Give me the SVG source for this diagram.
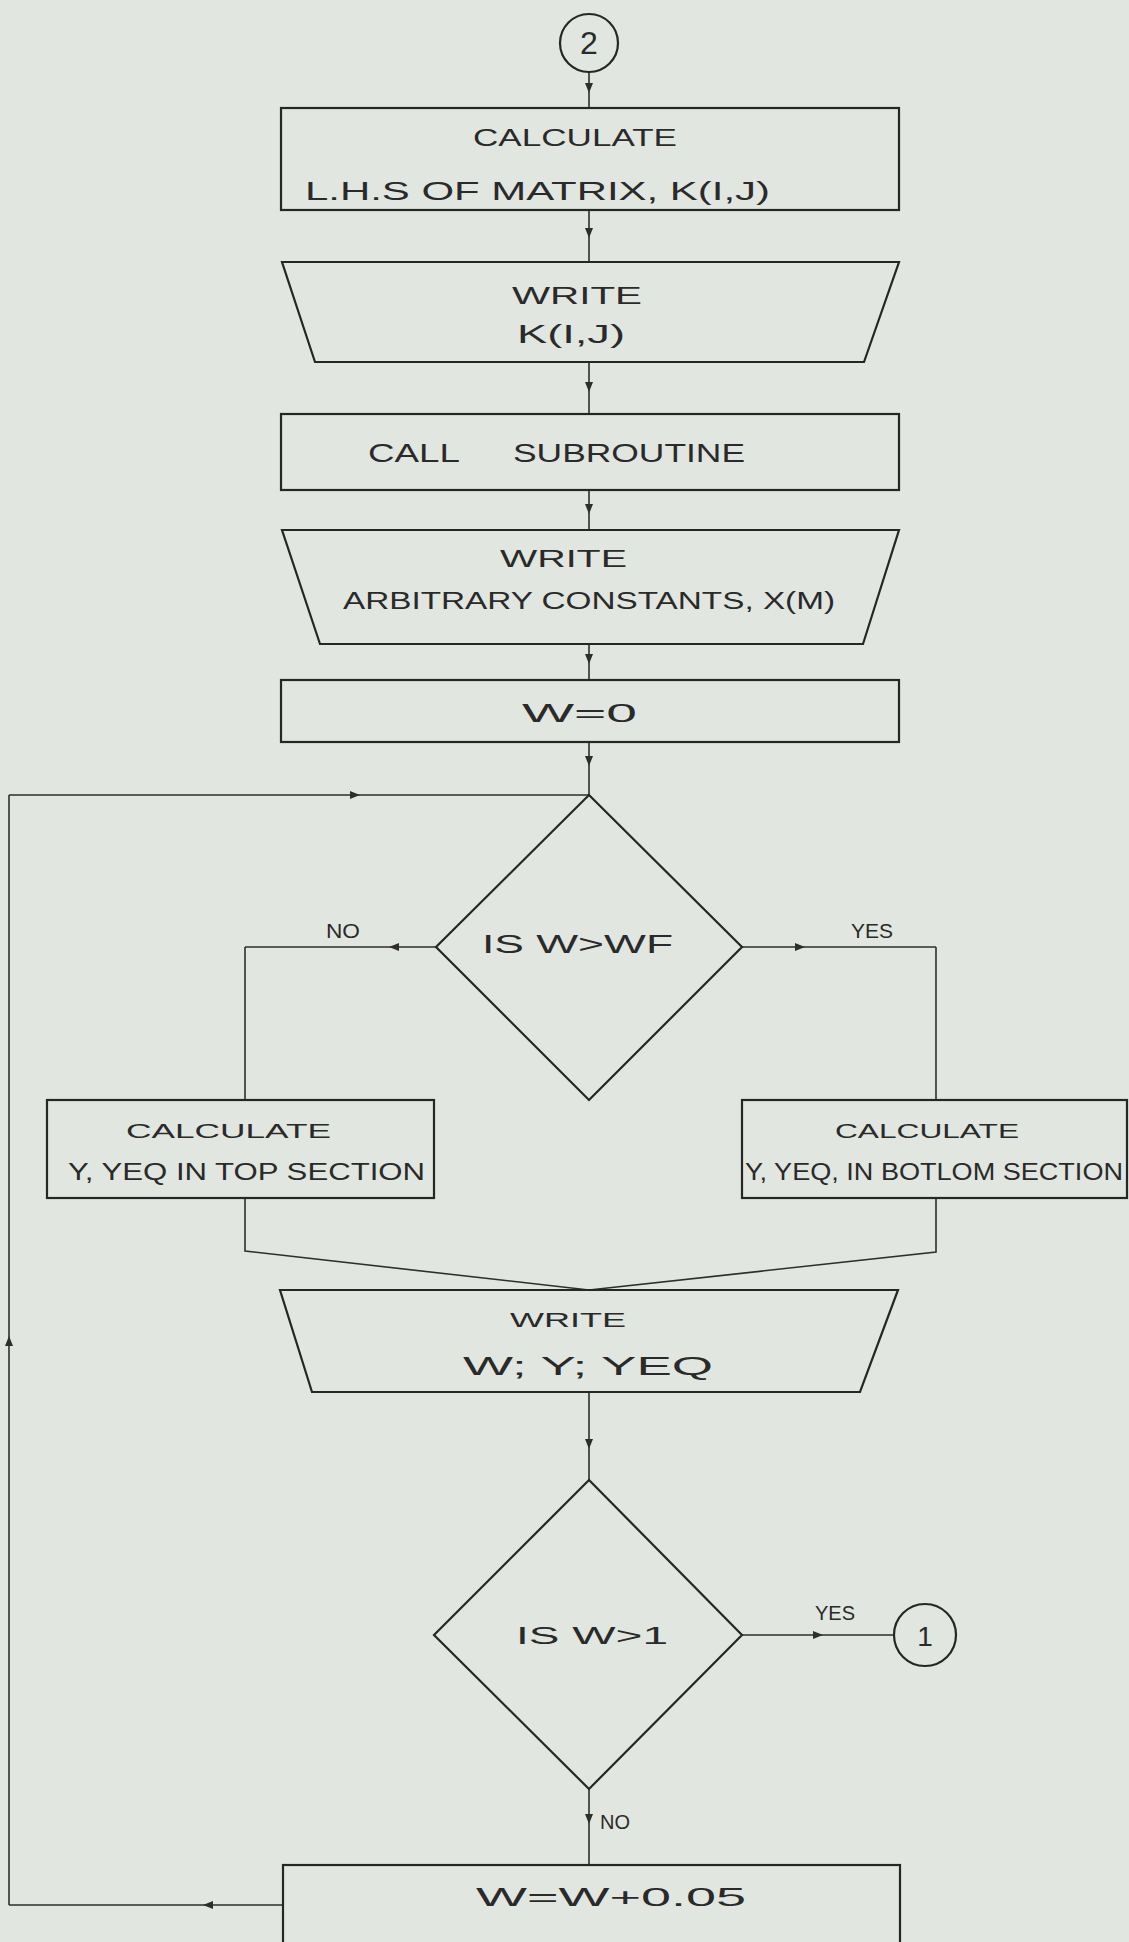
<svg xmlns="http://www.w3.org/2000/svg" width="1129" height="1942" viewBox="0 0 1129 1942">
  <style>
    .shape { fill: none; stroke: #262626; stroke-width: 2.2; stroke-linejoin: miter; }
    .conn { fill: none; stroke: #2e2e2e; stroke-width: 1.6; }
    .arr { marker-mid: url(#ah); }
    text { font-family: "Liberation Sans", Arial, sans-serif; fill: #2a2a2a; }
    .lg { font-size: 26px; }
    .md { font-size: 23px; }
    .sm { font-size: 20px; }
    .c { text-anchor: middle; }
  </style>
  <defs>
    <marker id="ah" viewBox="0 0 10 8" refX="10" refY="4" markerWidth="10" markerHeight="8" markerUnits="userSpaceOnUse" orient="auto">
      <path d="M0,0 L10,4 L0,8 z" fill="#2e2e2e"/>
    </marker>
  </defs>

  <rect x="0" y="0" width="1129" height="1942" fill="#e2e6e0"/>

  <!-- connectors -->
  <g id="connectors">
    <polyline class="conn arr" points="589,72 589,93 589,108"/>
    <polyline class="conn arr" points="589,210 589,238 589,262"/>
    <polyline class="conn arr" points="589,362 589,392 589,414"/>
    <polyline class="conn arr" points="589,490 589,514 589,530"/>
    <polyline class="conn arr" points="589,644 589,664 589,680"/>
    <polyline class="conn arr" points="589,742 589,766 589,795"/>
    <!-- NO branch of first decision -->
    <polyline class="conn arr" points="436,947 389,947 245,947"/>
    <polyline class="conn" points="245,947 245,1100"/>
    <!-- YES branch of first decision -->
    <polyline class="conn arr" points="742,947 805,947 936,947"/>
    <polyline class="conn" points="936,947 936,1100"/>
    <!-- merge into WRITE W; Y; YEQ -->
    <polyline class="conn" points="245,1198 245,1251 589,1290"/>
    <polyline class="conn" points="936,1198 936,1252 589,1290"/>
    <polyline class="conn arr" points="589,1392 589,1449 589,1480"/>
    <!-- YES to connector 1 -->
    <polyline class="conn arr" points="742,1635 823,1635 894,1635"/>
    <!-- NO down to increment -->
    <polyline class="conn arr" points="589,1789 589,1824 589,1865"/>
    <!-- loop back to first decision -->
    <polyline class="conn arr" points="283,1905 203,1905 9,1905"/>
    <polyline class="conn arr" points="9,1905 9,1336 9,795"/>
    <polyline class="conn arr" points="9,795 360,795 589,795"/>
  </g>

  <g id="conn-2">
    <circle class="shape" cx="589" cy="43" r="29" stroke-width="1.8"/>
    <text class="c" x="589" y="54" font-size="32">2</text>
  </g>

  <g id="calc-lhs">
    <rect class="shape" x="281" y="108" width="618" height="102"/>
    <text class="md" x="473" y="146" textLength="204" lengthAdjust="spacingAndGlyphs">CALCULATE</text>
    <text class="lg" x="305" y="200" textLength="465" lengthAdjust="spacingAndGlyphs">L.H.S OF MATRIX, K(I,J)</text>
  </g>

  <g id="write-k">
    <polygon class="shape" points="282,262 899,262 864,362 315,362"/>
    <text class="md" x="512" y="304" textLength="130" lengthAdjust="spacingAndGlyphs">WRITE</text>
    <text class="lg" x="517" y="343" textLength="108" lengthAdjust="spacingAndGlyphs">K(I,J)</text>
  </g>

  <g id="call-sub">
    <rect class="shape" x="281" y="414" width="618" height="76"/>
    <text class="lg" x="368" y="462" textLength="92" lengthAdjust="spacingAndGlyphs">CALL</text>
    <text class="lg" x="513" y="462" textLength="232" lengthAdjust="spacingAndGlyphs">SUBROUTINE</text>
  </g>

  <g id="write-x">
    <polygon class="shape" points="282,530 899,530 863,644 320,644"/>
    <text class="md" x="500" y="567" textLength="127" lengthAdjust="spacingAndGlyphs">WRITE</text>
    <text class="md" x="343" y="609" textLength="492" lengthAdjust="spacingAndGlyphs">ARBITRARY CONSTANTS, X(M)</text>
  </g>

  <g id="init-w">
    <rect class="shape" x="281" y="680" width="618" height="62"/>
    <text class="lg" x="522" y="722" textLength="115" lengthAdjust="spacingAndGlyphs">W=0</text>
  </g>

  <g id="test-wf">
    <polygon class="shape" points="589,795 742,947 589,1100 436,947"/>
    <text class="lg" x="482" y="953" textLength="191" lengthAdjust="spacingAndGlyphs">IS W&gt;WF</text>
    <text class="sm" x="326" y="938" textLength="34" lengthAdjust="spacingAndGlyphs">NO</text>
    <text class="sm" x="851" y="938" textLength="42" lengthAdjust="spacingAndGlyphs">YES</text>
  </g>

  <g id="calc-top">
    <rect class="shape" x="47" y="1100" width="387" height="98"/>
    <text class="sm" x="126" y="1138" textLength="205" lengthAdjust="spacingAndGlyphs">CALCULATE</text>
    <text class="md" x="68" y="1180" textLength="357" lengthAdjust="spacingAndGlyphs">Y, YEQ IN TOP SECTION</text>
  </g>

  <g id="calc-bottom">
    <rect class="shape" x="742" y="1100" width="385" height="98"/>
    <text class="sm" x="835" y="1138" textLength="184" lengthAdjust="spacingAndGlyphs">CALCULATE</text>
    <text class="md" x="745" y="1180" textLength="378" lengthAdjust="spacingAndGlyphs">Y, YEQ, IN BOTLOM SECTION</text>
  </g>

  <g id="write-w">
    <polygon class="shape" points="280,1290 898,1290 860,1392 312,1392"/>
    <text class="sm" x="510" y="1327" textLength="116" lengthAdjust="spacingAndGlyphs">WRITE</text>
    <text class="lg" x="463" y="1375" textLength="250" lengthAdjust="spacingAndGlyphs">W; Y; YEQ</text>
  </g>

  <g id="test-one">
    <polygon class="shape" points="589,1480 742,1635 589,1789 434,1635"/>
    <text class="md" x="516" y="1644" textLength="152" lengthAdjust="spacingAndGlyphs">IS W&gt;1</text>
    <text class="sm" x="815" y="1620" textLength="40" lengthAdjust="spacingAndGlyphs">YES</text>
    <text class="sm" x="600" y="1829" textLength="30" lengthAdjust="spacingAndGlyphs">NO</text>
  </g>

  <g id="conn-1">
    <circle class="shape" cx="925" cy="1635" r="31" stroke-width="1.8"/>
    <text class="c" x="925" y="1646" font-size="28">1</text>
  </g>

  <g id="incr-w">
    <rect class="shape" x="283" y="1865" width="617" height="90"/>
    <text class="lg" x="476" y="1906" textLength="270" lengthAdjust="spacingAndGlyphs">W=W+0.05</text>
  </g>
</svg>
